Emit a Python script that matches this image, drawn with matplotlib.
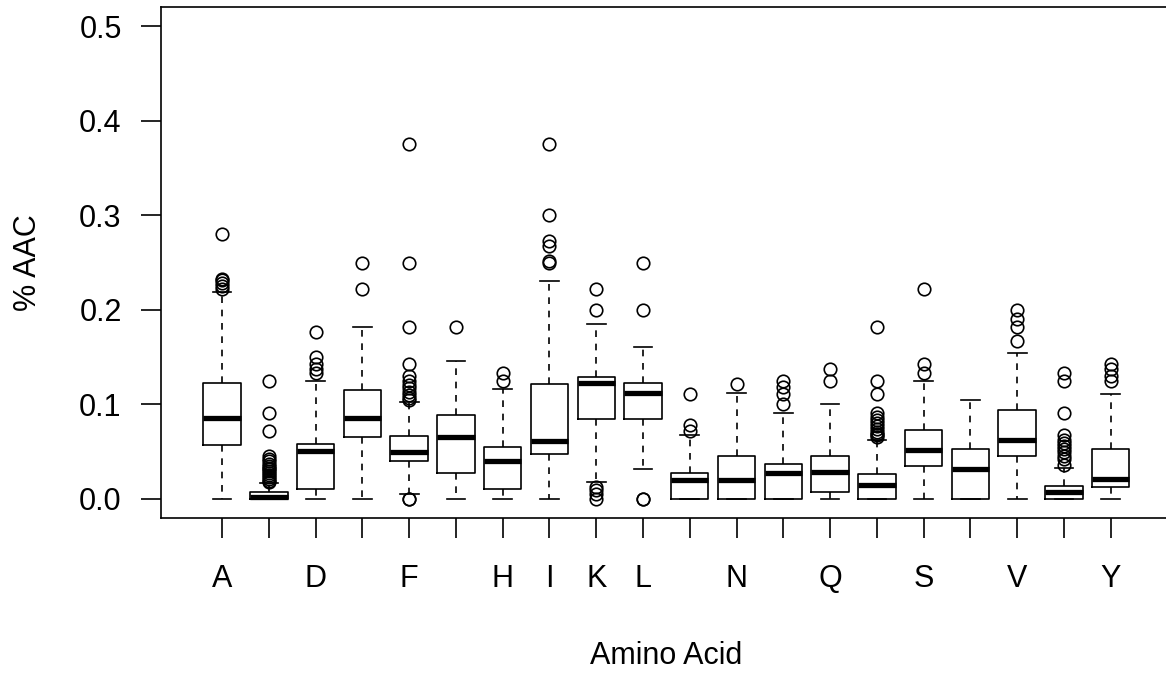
import numpy as np
import matplotlib
matplotlib.use("Agg")
import matplotlib.pyplot as plt

plt.rcParams['font.family'] = ['Liberation Sans', 'DejaVu Sans']

# ---- data ----
amino = ['A', 'C', 'D', 'E', 'F', 'G', 'H', 'I', 'K', 'L',
         'M', 'N', 'P', 'Q', 'R', 'S', 'T', 'V', 'W', 'Y']
tick_labels = ['A', '', 'D', '', 'F', '', 'H', 'I', 'K', 'L',
               '', 'N', '', 'Q', '', 'S', '', 'V', '', 'Y']

q1 = [0.057, 0.0, 0.0104, 0.065, 0.0405, 0.0276, 0.0104, 0.0476, 0.0844, 0.0844,
      0.0, 0.0, 0.0, 0.0067, 0.0, 0.035, 0.0, 0.0455, 0.0, 0.013]
med = [0.085, 0.002, 0.051, 0.085, 0.0497, 0.065, 0.0405, 0.0614, 0.122, 0.1115,
       0.0196, 0.0196, 0.0276, 0.0288, 0.0142, 0.0518, 0.032, 0.0618, 0.0067, 0.0205]
q3 = [0.1228, 0.0069, 0.0585, 0.1153, 0.066, 0.0886, 0.0543, 0.1216, 0.129, 0.123,
      0.0276, 0.0455, 0.0372, 0.0455, 0.0267, 0.0731, 0.053, 0.0936, 0.0135, 0.053]
whislo = [0.0, 0.0, 0.0, 0.0, 0.005, 0.0, 0.0, 0.0, 0.0175, 0.031,
          0.0, 0.0, 0.0, 0.0, 0.0, 0.0, 0.0, 0.0, 0.0, 0.0]
whishi = [0.219, 0.0167, 0.125, 0.1817, 0.102, 0.146, 0.1157, 0.2306, 0.1846, 0.161,
          0.0677, 0.1124, 0.0906, 0.1, 0.0625, 0.125, 0.105, 0.154, 0.033, 0.1107]

outliers_A = [0.222, 0.225, 0.228, 0.231, 0.233, 0.280]
outliers_C = [0.018, 0.019, 0.021, 0.023, 0.025, 0.027, 0.029, 0.031, 0.033, 0.035,
              0.037, 0.040, 0.042, 0.045, 0.0715, 0.091, 0.125]
outliers_D = [0.133, 0.137, 0.143, 0.150, 0.176]
outliers_E = [0.222, 0.250]
outliers_F = [0.0, 0.0, 0.105, 0.107, 0.110, 0.113, 0.117, 0.120, 0.125, 0.130,
              0.143, 0.182, 0.250, 0.375]
outliers_G = [0.182]
outliers_H = [0.125, 0.1333]
outliers_I = [0.250, 0.252, 0.267, 0.273, 0.300, 0.375]
outliers_K = [0.0, 0.005, 0.009, 0.013, 0.200, 0.222]
outliers_L = [0.0, 0.0, 0.200, 0.250]
outliers_M = [0.072, 0.078, 0.111]
outliers_N = [0.121]
outliers_P = [0.100, 0.111, 0.118, 0.125]
outliers_Q = [0.125, 0.137]
outliers_R = [0.065, 0.067, 0.069, 0.071, 0.074, 0.077, 0.080, 0.083, 0.087, 0.091,
              0.111, 0.125, 0.182]
outliers_S = [0.133, 0.143, 0.222]
outliers_T = []
outliers_V = [0.167, 0.182, 0.190, 0.200]
outliers_W = [0.036, 0.042, 0.045, 0.050, 0.053, 0.056, 0.059, 0.062, 0.067,
              0.091, 0.125, 0.133]
outliers_Y = [0.125, 0.130, 0.137, 0.143]

fliers = [outliers_A, outliers_C, outliers_D, outliers_E, outliers_F, outliers_G,
          outliers_H, outliers_I, outliers_K, outliers_L, outliers_M, outliers_N,
          outliers_P, outliers_Q, outliers_R, outliers_S, outliers_T, outliers_V,
          outliers_W, outliers_Y]

x_title = 'Amino Acid'
y_title = '% AAC'
y_ticks = [0.0, 0.1, 0.2, 0.3, 0.4, 0.5]

# ---- figure ----
W, H = 1166, 673
fig = plt.figure(figsize=(W / 100, H / 100), dpi=100)
left, right, top, bottom = 161.3, 1171.5, 7.3, 517.7
ax = fig.add_axes([left / W, 1 - bottom / H, (right - left) / W, (bottom - top) / H])

stats = []
for i, name in enumerate(amino):
    stats.append(dict(label=name, q1=q1[i], med=med[i], q3=q3[i],
                      whislo=whislo[i], whishi=whishi[i],
                      fliers=np.array(fliers[i])))

lw = 1.2
ax.bxp(stats, positions=np.arange(1, len(amino) + 1), widths=0.8, capwidths=0.4,
       showfliers=True,
       boxprops=dict(color='black', linewidth=lw),
       whiskerprops=dict(color='black', linewidth=lw, linestyle=(0, (4, 4))),
       capprops=dict(color='black', linewidth=lw),
       medianprops=dict(color='black', linewidth=3.8, solid_capstyle='butt'),
       flierprops=dict(marker='o', markerfacecolor='none', markeredgecolor='black',
                       markersize=9, markeredgewidth=lw, linestyle='none'))

ax.set_xlim(-0.3, 21.3)
ax.set_ylim(-0.02, 0.52)
ax.set_xticks(np.arange(1, len(amino) + 1))
ax.set_xticklabels(tick_labels)
ax.set_yticks(y_ticks)
ax.set_yticklabels([f'{v:.1f}' for v in y_ticks])

for sp in ax.spines.values():
    sp.set_linewidth(lw)
    sp.set_color('black')

ax.tick_params(axis='both', direction='out', length=14.1, width=lw,
               labelsize=22, colors='black')
ax.tick_params(axis='x', pad=19)
ax.tick_params(axis='y', pad=14.4)

ax.set_xlabel(x_title, fontsize=22)
ax.xaxis.set_label_coords(0.5, (bottom - 664) / (bottom - top))
ax.xaxis.label.set_va('baseline')
ax.set_ylabel(y_title, fontsize=22)
ax.yaxis.set_label_coords((28.3 - left) / (right - left), 0.5)
ax.yaxis.label.set_va('center')

fig.savefig('out.png', dpi=100)
